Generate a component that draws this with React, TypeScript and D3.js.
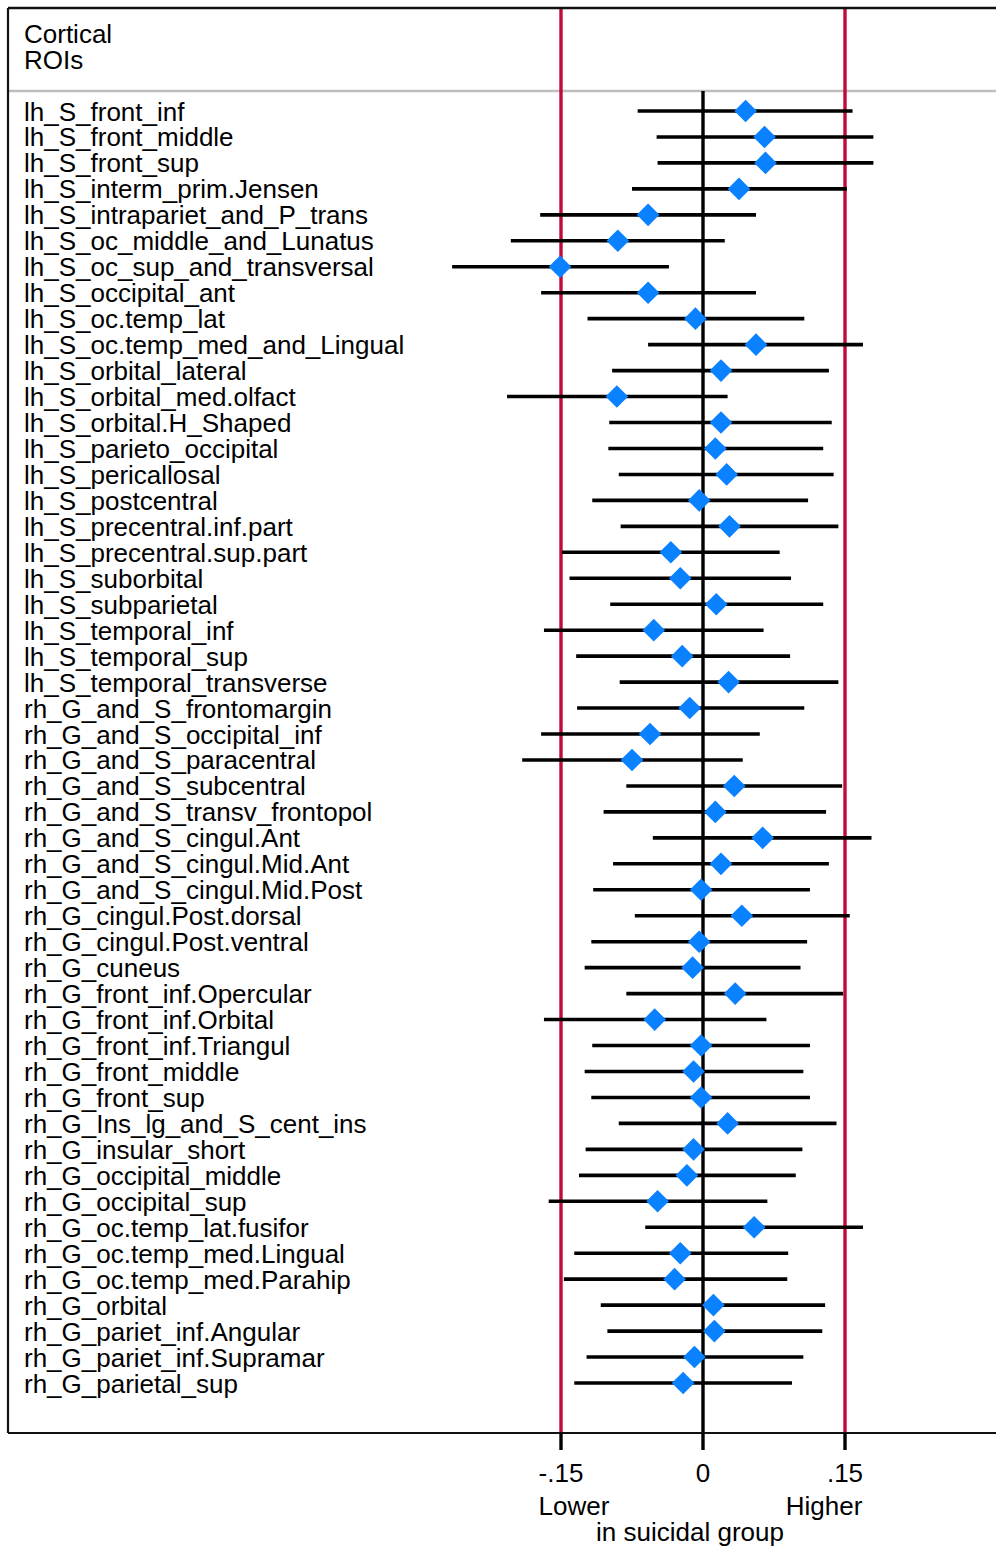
import React from "react";
import * as d3 from "d3";

const rois: string[] = [
  "lh_S_front_inf", "lh_S_front_middle", "lh_S_front_sup", "lh_S_interm_prim.Jensen",
  "lh_S_intrapariet_and_P_trans", "lh_S_oc_middle_and_Lunatus", "lh_S_oc_sup_and_transversal",
  "lh_S_occipital_ant", "lh_S_oc.temp_lat", "lh_S_oc.temp_med_and_Lingual", "lh_S_orbital_lateral",
  "lh_S_orbital_med.olfact", "lh_S_orbital.H_Shaped", "lh_S_parieto_occipital", "lh_S_pericallosal",
  "lh_S_postcentral", "lh_S_precentral.inf.part", "lh_S_precentral.sup.part", "lh_S_suborbital",
  "lh_S_subparietal", "lh_S_temporal_inf", "lh_S_temporal_sup", "lh_S_temporal_transverse",
  "rh_G_and_S_frontomargin", "rh_G_and_S_occipital_inf", "rh_G_and_S_paracentral",
  "rh_G_and_S_subcentral", "rh_G_and_S_transv_frontopol", "rh_G_and_S_cingul.Ant",
  "rh_G_and_S_cingul.Mid.Ant", "rh_G_and_S_cingul.Mid.Post", "rh_G_cingul.Post.dorsal",
  "rh_G_cingul.Post.ventral", "rh_G_cuneus", "rh_G_front_inf.Opercular", "rh_G_front_inf.Orbital",
  "rh_G_front_inf.Triangul", "rh_G_front_middle", "rh_G_front_sup", "rh_G_Ins_lg_and_S_cent_ins",
  "rh_G_insular_short", "rh_G_occipital_middle", "rh_G_occipital_sup", "rh_G_oc.temp_lat.fusifor",
  "rh_G_oc.temp_med.Lingual", "rh_G_oc.temp_med.Parahip", "rh_G_orbital", "rh_G_pariet_inf.Angular",
  "rh_G_pariet_inf.Supramar", "rh_G_parietal_sup",
];

const estimate: number[] = [
  0.045, 0.065, 0.066, 0.038, -0.058, -0.090, -0.151, -0.058, -0.008, 0.056,
  0.019, -0.091, 0.019, 0.013, 0.025, -0.004, 0.028, -0.034, -0.024, 0.014,
  -0.052, -0.022, 0.027, -0.014, -0.056, -0.075, 0.033, 0.013, 0.063, 0.019,
  -0.002, 0.041, -0.004, -0.011, 0.034, -0.051, -0.002, -0.010, -0.002, 0.026,
  -0.010, -0.017, -0.048, 0.054, -0.024, -0.030, 0.011, 0.012, -0.009, -0.021,
];

const lower: number[] = [
  -0.069, -0.049, -0.048, -0.075, -0.172, -0.203, -0.265, -0.171, -0.122, -0.058,
  -0.096, -0.207, -0.099, -0.100, -0.089, -0.117, -0.087, -0.149, -0.141, -0.098,
  -0.168, -0.134, -0.088, -0.133, -0.171, -0.191, -0.081, -0.105, -0.053, -0.095,
  -0.116, -0.072, -0.118, -0.125, -0.081, -0.168, -0.117, -0.125, -0.118, -0.089,
  -0.124, -0.131, -0.163, -0.061, -0.136, -0.147, -0.108, -0.101, -0.123, -0.136,
];

const upper: number[] = [
  0.158, 0.180, 0.180, 0.152, 0.056, 0.023, -0.036, 0.056, 0.107, 0.169,
  0.133, 0.026, 0.136, 0.127, 0.138, 0.111, 0.143, 0.081, 0.093, 0.127,
  0.064, 0.092, 0.143, 0.107, 0.060, 0.042, 0.147, 0.130, 0.178, 0.133,
  0.113, 0.155, 0.110, 0.103, 0.148, 0.067, 0.113, 0.106, 0.113, 0.141,
  0.105, 0.098, 0.068, 0.169, 0.090, 0.089, 0.129, 0.126, 0.106, 0.094,
];

const xTicks: number[] = [-0.15, 0, 0.15];
const xTickLabels: string[] = ["-.15", "0", ".15"];
const refLines: number[] = [-0.15, 0.15];
const headerLines: string[] = ["Cortical", "ROIs"];

const FONT = "'Liberation Sans', Arial, Helvetica, sans-serif";
const FS = 26;
const RED = "#C10A3A";
const BLUE = "#0A82FF";

export default function App() {
  const W = 996;
  const H = 1548;
  const left = 8;
  const top = 8;
  const bottom = 1433;
  const sep = 91;

  const x = d3.scaleLinear().domain([-0.15, 0.15]).range([561, 845]);
  const y = d3.scalePoint<string>().domain(rois).range([111, 1383]);
  const diamond = d3.symbol().type(d3.symbolSquare).size(16 * 16)();

  return (
    <div style={{ position: "absolute", left: 0, top: 0 }}>
      <svg width={W} height={H} viewBox={`0 0 ${W} ${H}`} style={{ display: "block", background: "#fff" }}>
        <rect x={0} y={0} width={W} height={H} fill="#fff" />
        {/* header separator */}
        <line x1={left} x2={W} y1={sep} y2={sep} stroke="#BEBEBE" strokeWidth={2.3} />
        {/* reference lines */}
        {refLines.map((v) => (
          <line key={"r" + v} x1={x(v)} x2={x(v)} y1={top} y2={bottom} stroke={RED} strokeWidth={3.4} />
        ))}
        {/* zero line */}
        <line x1={x(0)} x2={x(0)} y1={sep} y2={bottom} stroke="#000" strokeWidth={3.4} />
        {/* CIs */}
        {rois.map((r, i) => (
          <line key={"ci" + r} x1={x(lower[i])} x2={x(upper[i])} y1={y(r)!} y2={y(r)!} stroke="#000" strokeWidth={3.6} />
        ))}
        {rois.map((r, i) => (
          <path key={"pt" + r} d={diamond!} transform={`translate(${x(estimate[i])},${y(r)}) rotate(45)`} fill={BLUE} />
        ))}
        {/* frame */}
        <line x1={left} x2={W} y1={top} y2={top} stroke="#111" strokeWidth={2.5} />
        <line x1={left} x2={left} y1={top} y2={bottom} stroke="#111" strokeWidth={2.2} />
        <line x1={left} x2={W} y1={bottom} y2={bottom} stroke="#111" strokeWidth={2.2} />
        {/* ticks */}
        {xTicks.map((t, i) => (
          <g key={"t" + t}>
            <line x1={x(t)} x2={x(t)} y1={bottom} y2={1450} stroke="#000" strokeWidth={3.4} />
            <text x={x(t)} y={1482} textAnchor="middle" fontFamily={FONT} fontSize={FS} fill="#000">{xTickLabels[i]}</text>
          </g>
        ))}
        <text x={574} y={1515} textAnchor="middle" fontFamily={FONT} fontSize={FS} fill="#000">Lower</text>
        <text x={824} y={1515} textAnchor="middle" fontFamily={FONT} fontSize={FS} fill="#000">Higher</text>
        <text x={690} y={1541} textAnchor="middle" fontFamily={FONT} fontSize={FS} fill="#000">in suicidal group</text>
        {/* header */}
        {headerLines.map((h, i) => (
          <text key={h} x={24} y={43 + i * 26} fontFamily={FONT} fontSize={FS} fill="#000">{h}</text>
        ))}
        {/* labels */}
        {rois.map((r) => (
          <text key={"l" + r} x={24} y={y(r)! + 9.5} fontFamily={FONT} fontSize={FS} fill="#000">{r}</text>
        ))}
      </svg>
    </div>
  );
}
